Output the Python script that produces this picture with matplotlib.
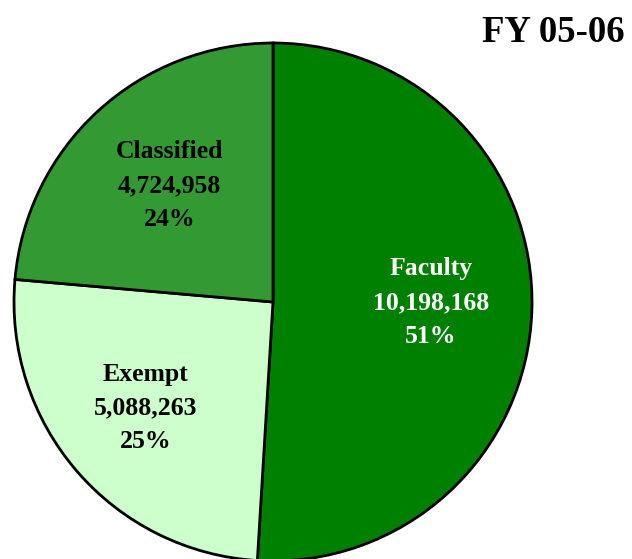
import numpy as np
import matplotlib.pyplot as plt

categories = ['Faculty', 'Exempt', 'Classified']
values = [10198168, 5088263, 4724958]
colors = ['#008000', '#CCFFCC', '#339933']
text_colors = ['white', 'black', 'black']
label_dist = [0.61, 0.65, 0.59]

plt.rcParams['font.family'] = ['Liberation Serif', 'DejaVu Serif']

fig = plt.figure(figsize=(6.32, 5.59), dpi=100)
ax = fig.add_axes([0, 0, 1, 1])

cx, cy, r = 273, 559 - 302, 259
wedges, _ = ax.pie(values, colors=colors, startangle=90, counterclock=False,
                   center=(cx, cy), radius=r, frame=True,
                   wedgeprops=dict(edgecolor='black', linewidth=2))

total = sum(values)
for w, name, v, tc, d in zip(wedges, categories, values, text_colors, label_dist):
    ang = np.deg2rad((w.theta1 + w.theta2) / 2)
    x = cx + d * r * np.cos(ang)
    y = cy + d * r * np.sin(ang) + 4
    ax.text(x, y, f'{name}\n{v:,}\n{round(100 * v / total)}%',
            ha='center', va='center', color=tc, fontsize=18.5,
            fontweight='bold', linespacing=1.6)

ax.text(625, 559 - 32, 'FY 05-06', ha='right', va='center',
        fontsize=26.5, fontweight='bold')

ax.set_xlim(0, 632)
ax.set_ylim(0, 559)
ax.axis('off')

fig.savefig('out.png', dpi=100)
